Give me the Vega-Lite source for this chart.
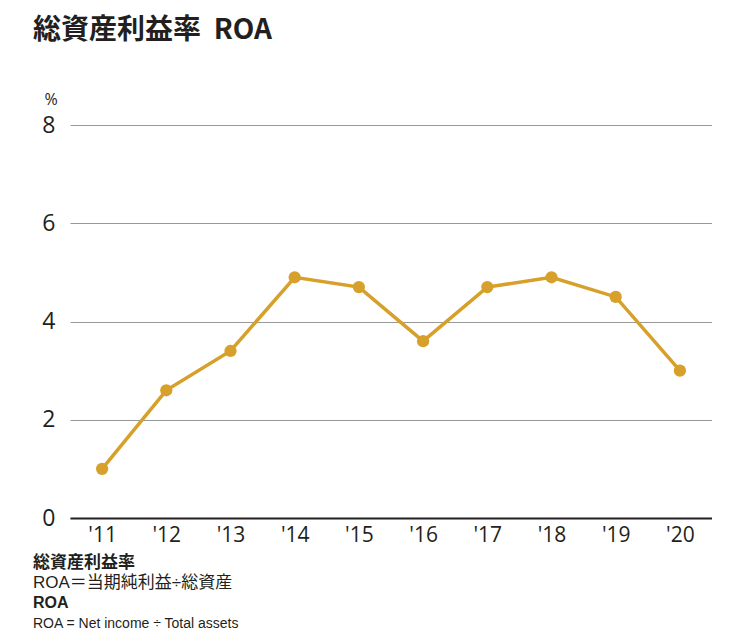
{
  "$schema": "https://vega.github.io/schema/vega-lite/v6.json",
  "padding": {"left": 33, "top": 17, "right": 0, "bottom": 0},
  "background": "#ffffff",
  "title": {
    "text": "総資産利益率\u00a0\u00a0ROA",
    "anchor": "start",
    "fontSize": 28,
    "font": "Noto Sans CJK JP",
    "fontWeight": "bold",
    "color": "#231f20",
    "offset": 46
  },
  "config": {"view": {"stroke": null}},
  "bounds": "flush",
  "spacing": 40,
  "vconcat": [
    {
      "width": 642,
      "height": 393,
      "data": {
        "values": [
          {"year": "'11", "roa": 1.0},
          {"year": "'12", "roa": 2.6},
          {"year": "'13", "roa": 3.4},
          {"year": "'14", "roa": 4.9},
          {"year": "'15", "roa": 4.7},
          {"year": "'16", "roa": 3.6},
          {"year": "'17", "roa": 4.7},
          {"year": "'18", "roa": 4.9},
          {"year": "'19", "roa": 4.5},
          {"year": "'20", "roa": 3.0}
        ]
      },
      "encoding": {
        "x": {
          "field": "year",
          "type": "ordinal",
          "sort": null,
          "scale": {"type": "point", "padding": 0.5},
          "axis": {
            "title": null,
            "labelAngle": 0,
            "ticks": false,
            "domain": true,
            "domainColor": "#231f20",
            "domainWidth": 2,
            "labelFont": "Open Sans",
            "labelFontSize": 21,
            "labelColor": "#231f20",
            "labelPadding": 6,
            "grid": false
          }
        },
        "y": {
          "field": "roa",
          "type": "quantitative",
          "scale": {"domain": [0, 8]},
          "axis": {
            "values": [0, 2, 4, 6, 8],
            "title": "%",
            "titleAngle": 0,
            "titleAlign": "left",
            "titleBaseline": "alphabetic",
            "titleX": -26,
            "titleY": -21,
            "titleFont": "Open Sans",
            "titleFontSize": 16,
            "titleFontWeight": "normal",
            "titleColor": "#231f20",
            "domain": false,
            "ticks": false,
            "grid": true,
            "gridColor": "#999999",
            "gridWidth": 1,
            "labelFont": "Open Sans",
            "labelFontSize": 23,
            "labelColor": "#231f20",
            "labelPadding": 15
          }
        }
      },
      "layer": [
        {"mark": {"type": "line", "color": "#d6a02b", "strokeWidth": 3.5}},
        {"mark": {"type": "point", "filled": true, "opacity": 1, "color": "#d6a02b", "size": 150}}
      ]
    },
    {
      "width": 0,
      "height": 80,
      "data": {
        "values": [
          {"line": 1, "text": "総資産利益率"},
          {"line": 2, "text": "ROA＝当期純利益÷総資産"},
          {"line": 3, "text": "ROA"},
          {"line": 4, "text": "ROA = Net income ÷ Total assets"}
        ]
      },
      "encoding": {
        "y": {
          "field": "line",
          "type": "ordinal",
          "scale": {"type": "point", "padding": 0.5},
          "axis": null
        },
        "text": {"field": "text"}
      },
      "layer": [
        {
          "transform": [{"filter": "datum.line === 1"}],
          "mark": {"type": "text", "align": "left", "baseline": "alphabetic", "dx": -47, "font": "Noto Sans CJK JP", "fontSize": 17, "fontWeight": "bold", "color": "#231f20"}
        },
        {
          "transform": [{"filter": "datum.line === 2"}],
          "mark": {"type": "text", "align": "left", "baseline": "alphabetic", "dx": -47, "font": "Liberation Sans, Noto Sans CJK JP", "fontSize": 17, "color": "#231f20"}
        },
        {
          "transform": [{"filter": "datum.line === 3"}],
          "mark": {"type": "text", "align": "left", "baseline": "alphabetic", "dx": -47, "font": "Liberation Sans", "fontSize": 16, "fontWeight": "bold", "color": "#231f20"}
        },
        {
          "transform": [{"filter": "datum.line === 4"}],
          "mark": {"type": "text", "align": "left", "baseline": "alphabetic", "dx": -47, "font": "Liberation Sans", "fontSize": 14, "color": "#231f20"}
        }
      ]
    }
  ]
}
